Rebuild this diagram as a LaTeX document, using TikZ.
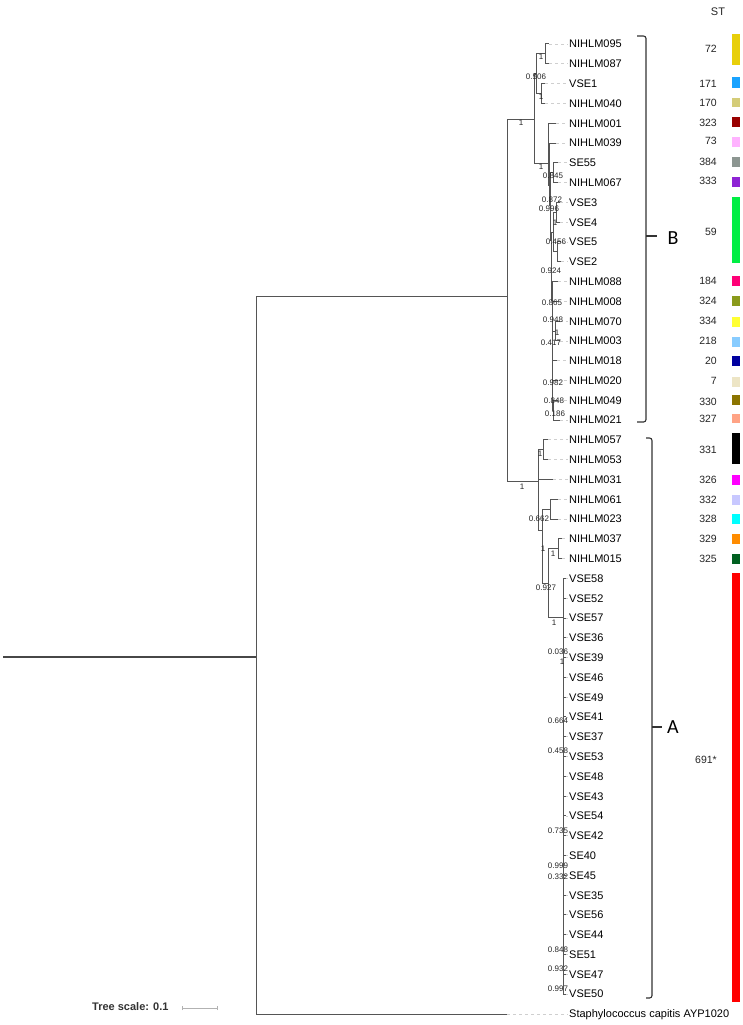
\documentclass[tikz,border=0pt]{standalone}
\usepackage{fontspec}
\setmainfont{Liberation Sans}
\newfontfamily\carl{Carlito}
\definecolor{tree}{HTML}{555555}
\definecolor{dashgray}{HTML}{CFCFCF}
\definecolor{c72}{HTML}{E8CF0A}
\definecolor{c171}{HTML}{1AA3FF}
\definecolor{c170}{HTML}{D4CC78}
\definecolor{c323}{HTML}{990000}
\definecolor{c73}{HTML}{FFB3FF}
\definecolor{c384}{HTML}{8C9691}
\definecolor{c333}{HTML}{8E24D4}
\definecolor{c59}{HTML}{00EE44}
\definecolor{c184}{HTML}{FF0077}
\definecolor{c324}{HTML}{8A9A1B}
\definecolor{c334}{HTML}{FFFF33}
\definecolor{c218}{HTML}{88CCFF}
\definecolor{c20}{HTML}{0000A0}
\definecolor{c7}{HTML}{EDE5C5}
\definecolor{c330}{HTML}{8B7400}
\definecolor{c327}{HTML}{FFA385}
\definecolor{c331}{HTML}{000000}
\definecolor{c326}{HTML}{FF00FF}
\definecolor{c332}{HTML}{C8C8FF}
\definecolor{c328}{HTML}{00FFFF}
\definecolor{c329}{HTML}{FF8C00}
\definecolor{c325}{HTML}{006020}
\definecolor{c691}{HTML}{FF0000}
\newcommand\leaf[4]{%
  \coordinate (#1) at (#2,#3);
  \node[lbl] (#1l) at (569,#3+3.9) {#4};
  \draw[dsh] (#1) -- (#1 -| #1l.west);}
\newcommand\stnum[3]{\node[stl] (#1) at (717,#2+3.8) {#3};}
\newcommand\stbar[3]{\fill[#3] (732,#1) rectangle (740,#2);}
\begin{document}
\begin{tikzpicture}[x=1pt,y=-1pt,
  tl/.style={draw=tree,line width=1pt},
  dsh/.style={draw=dashgray,line width=0.8pt,dash pattern=on 3pt off 3pt,shorten >=1pt},
  lbl/.style={anchor=base west,inner sep=0pt,font=\fontsize{11}{13}\selectfont},
  bsl/.style={inner sep=0pt,font=\fontsize{8}{9}\selectfont,text=black!85},
  stl/.style={anchor=base east,inner sep=0pt,font=\fontsize{10.5}{12}\selectfont,text=black!85},
  brk/.style={draw=black!80,line width=1.1pt,rounded corners=2.5pt}]
\useasboundingbox (0,0) rectangle (743,1025);
\fill[white] (0,0) rectangle (743,1025);

% internal nodes
\coordinate (root0) at (3,657);
\coordinate (R) at (256,657);
\coordinate (ING) at (507,296);
\coordinate (B) at (534,119);
\coordinate (A) at (538,481);
\coordinate (B1) at (536,74);
\coordinate (n1) at (545,54);
\coordinate (n2) at (541,93);
\coordinate (B2) at (548,163);
\coordinate (C1) at (549,185);
\coordinate (C2) at (550,205);
\coordinate (NSE) at (553,172.7);
\coordinate (C3) at (551,240);
\coordinate (NV) at (553,232);
\coordinate (NV2) at (556,212.2);
\coordinate (NV3) at (557,251.8);
\coordinate (C4) at (552,300);
\coordinate (C5) at (552,320);
\coordinate (C6) at (552,345);
\coordinate (N70) at (555,331);
\coordinate (C7) at (552,372);
\coordinate (C8) at (552,392);
\coordinate (C9) at (553,410);
\coordinate (N57) at (543,449.7);
\coordinate (A2) at (542,530);
\coordinate (N61) at (550,509.1);
\coordinate (A3) at (548,583);
\coordinate (N37) at (558,548.7);
\coordinate (VN) at (563,617);

% leaves
\leaf{t095}{549}{44.0}{NIHLM095}
\leaf{t087}{549}{63.8}{NIHLM087}
\leaf{tVSE1}{545}{83.6}{VSE1}
\leaf{t040}{545}{103.4}{NIHLM040}
\leaf{t001}{556}{123.2}{NIHLM001}
\leaf{t039}{556}{143.0}{NIHLM039}
\leaf{tSE55}{558}{162.8}{SE55}
\leaf{t067}{558}{182.5}{NIHLM067}
\leaf{tVSE3}{560}{202.3}{VSE3}
\leaf{tVSE4}{560}{222.1}{VSE4}
\leaf{tVSE5}{561}{241.9}{VSE5}
\leaf{tVSE2}{561}{261.7}{VSE2}
\leaf{t088}{558}{281.5}{NIHLM088}
\leaf{t008}{558}{301.3}{NIHLM008}
\leaf{t070}{560}{321.1}{NIHLM070}
\leaf{t003}{560}{340.9}{NIHLM003}
\leaf{t018}{557}{360.7}{NIHLM018}
\leaf{t020}{558}{380.5}{NIHLM020}
\leaf{t049}{558}{400.3}{NIHLM049}
\leaf{t021}{560}{420.0}{NIHLM021}
\leaf{t057}{548}{439.8}{NIHLM057}
\leaf{t053}{548}{459.6}{NIHLM053}
\leaf{t031}{553}{479.4}{NIHLM031}
\leaf{t061}{558}{499.2}{NIHLM061}
\leaf{t023}{558}{519.0}{NIHLM023}
\leaf{t037}{562}{538.8}{NIHLM037}
\leaf{t015}{562}{558.6}{NIHLM015}
\leaf{v58}{566}{578.4}{VSE58}
\leaf{v52}{566}{598.2}{VSE52}
\leaf{v57}{566}{618.0}{VSE57}
\leaf{v36}{566}{637.8}{VSE36}
\leaf{v39}{566}{657.6}{VSE39}
\leaf{v46}{566}{677.3}{VSE46}
\leaf{v49}{566}{697.1}{VSE49}
\leaf{v41}{566}{716.9}{VSE41}
\leaf{v37}{566}{736.7}{VSE37}
\leaf{v53}{566}{756.5}{VSE53}
\leaf{v48}{566}{776.3}{VSE48}
\leaf{v43}{566}{796.1}{VSE43}
\leaf{v54}{566}{815.9}{VSE54}
\leaf{v42}{566}{835.7}{VSE42}
\leaf{s40}{566}{855.5}{SE40}
\leaf{s45}{566}{875.3}{SE45}
\leaf{v35}{566}{895.1}{VSE35}
\leaf{v56}{566}{914.8}{VSE56}
\leaf{v44}{566}{934.6}{VSE44}
\leaf{s51}{566}{954.4}{SE51}
\leaf{v47}{566}{974.2}{VSE47}
\leaf{v50}{566}{994.0}{VSE50}
\leaf{tOUT}{507}{1014}{Staphylococcus capitis AYP1020}

% branches
\draw[tl,line width=1.3pt,draw=black!72] (root0) -- (R);
\foreach \p/\c in {R/ING,R/tOUT,ING/B,ING/A,
  B/B1,B/B2,B1/n1,B1/n2,n1/t095,n1/t087,n2/tVSE1,n2/t040,
  B2/t001,B2/C1,C1/t039,C1/C2,C2/NSE,C2/C3,NSE/tSE55,NSE/t067,
  C3/NV,C3/C4,NV/NV2,NV/NV3,NV2/tVSE3,NV2/tVSE4,NV3/tVSE5,NV3/tVSE2,
  C4/t088,C4/C5,C5/t008,C5/C6,C6/N70,C6/C7,N70/t070,N70/t003,
  C7/t018,C7/C8,C8/t020,C8/C9,C9/t049,C9/t021,
  A/N57,A/t031,A/A2,N57/t057,N57/t053,A2/N61,A2/A3,N61/t061,N61/t023,
  A3/N37,A3/VN,N37/t037,N37/t015,
  VN/v58,VN/v52,VN/v57,VN/v36,VN/v39,VN/v46,VN/v49,VN/v41,VN/v37,VN/v53,VN/v48,
  VN/v43,VN/v54,VN/v42,VN/s40,VN/s45,VN/v35,VN/v56,VN/v44,VN/s51,VN/v47,VN/v50}
  \draw[tl] (\p) |- (\c);

% support values
\foreach \x/\y/\t [count=\i] in {521/123/1,541/57/1,536/77/0.506,541/97/1,541/167/1,
  553/176/0.845,552/200/0.872,549/209/0.996,555/223/1,556/242/0.456,551/271/0.924,
  552/303/0.865,553/320/0.948,557/333/1,551/343/0.417,553/383/0.982,554/401/0.848,
  555/414/0.186,522/487/1,540/454/1,539/519/0.662,543/549/1,553/554/1,546/588/0.927,
  554/623/1,558/652/0.036,562/662/1,558/721/0.664,558/751/0.458,558/831/0.735,
  558/866/0.999,558/877/0.332,558/950/0.848,558/969/0.932,558/989/0.997}
  \node[bsl] (bs\i) at (\x,\y) {\t};

% clade brackets
\coordinate (Bt) at (637,36); \coordinate (Bb) at (637,422);
\draw[brk] (Bt) -- (646,36) -- (646,422) -- (Bb);
\coordinate (Bm) at (646,236);
\node[font=\carl\fontsize{20}{22}\selectfont,inner sep=0pt] (labB) at (673,238) {B};
\draw[draw=black!80,line width=1.1pt] (Bm) -- (657,236);
\coordinate (At) at (646,438); \coordinate (Ab) at (646,998);
\draw[brk] (At) -- (652,438) -- (652,998) -- (Ab);
\coordinate (Am) at (652,727);
\node[font=\carl\fontsize{20}{22}\selectfont,inner sep=0pt] (labA) at (673,727) {A};
\draw[draw=black!80,line width=1.1pt] (Am) -- (662,727);

% ST column
\node[font=\fontsize{11}{13}\selectfont,inner sep=0pt,text=black!85] (sthead) at (718,12) {ST};
\stnum{s72}{49}{72}       \stbar{34}{65}{c72}
\stnum{s171}{83.6}{171}   \stbar{77}{88}{c171}
\stnum{s170}{103}{170}    \stbar{98}{107}{c170}
\stnum{s323}{123}{323}    \stbar{117}{127}{c323}
\stnum{s73}{141}{73}      \stbar{137}{147}{c73}
\stnum{s384}{162}{384}    \stbar{157}{167}{c384}
\stnum{s333}{181}{333}    \stbar{177}{187}{c333}
\stnum{s59}{232}{59}      \stbar{197}{263}{c59}
\stnum{s184}{281}{184}    \stbar{276}{286}{c184}
\stnum{s324}{301}{324}    \stbar{296}{306}{c324}
\stnum{s334}{321}{334}    \stbar{317}{327}{c334}
\stnum{s218}{341}{218}    \stbar{337}{347}{c218}
\stnum{s20}{361}{20}      \stbar{356}{366}{c20}
\stnum{s7}{381}{7}        \stbar{377}{387}{c7}
\stnum{s330}{402}{330}    \stbar{395}{405}{c330}
\stnum{s327}{419}{327}    \stbar{414}{423}{c327}
\stnum{s331}{450}{331}    \stbar{433}{464}{c331}
\stnum{s326}{480}{326}    \stbar{475}{485}{c326}
\stnum{s332}{500}{332}    \stbar{495}{505}{c332}
\stnum{s328}{519}{328}    \stbar{514}{524}{c328}
\stnum{s329}{539}{329}    \stbar{534}{544}{c329}
\stnum{s325}{559}{325}    \stbar{554}{564}{c325}
\stnum{s691}{760}{691*}   \stbar{573}{1002}{c691}

% tree scale
\node[anchor=base west,inner sep=0pt,font=\bfseries\fontsize{11}{13}\selectfont,text=black!80] (scl) at (92,1010) {Tree scale: 0.1};
\coordinate (sb1) at (182,1008); \coordinate (sb2) at (217,1008);
\draw[black!30,line width=0.7pt] (sb1) -- (sb2);
\draw[black!30,line width=0.7pt] ([yshift=-2pt]sb1) -- ([yshift=2pt]sb1);
\draw[black!30,line width=0.7pt] ([yshift=-2pt]sb2) -- ([yshift=2pt]sb2);
\end{tikzpicture}
\end{document}
